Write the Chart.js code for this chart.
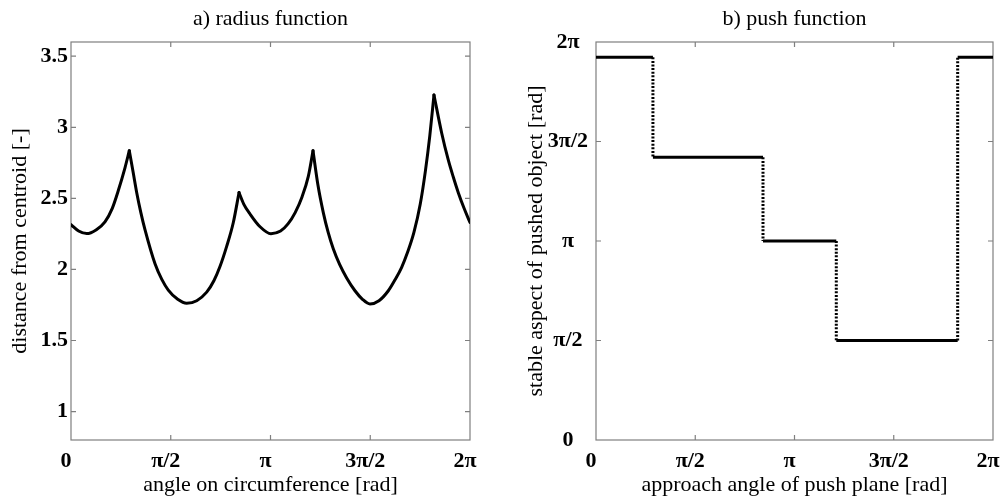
<!DOCTYPE html>
<html><head><meta charset="utf-8">
<script src="https://cdn.jsdelivr.net/npm/chart.js@4.4.1/dist/chart.umd.min.js"></script>
<style>
html,body{margin:0;padding:0;background:#fff;overflow:hidden;width:1005px;height:501px}
canvas{position:absolute;top:0}
#c1{left:0}
#c2{left:505px}
</style></head><body>
<canvas id="c1" width="500" height="501"></canvas>
<canvas id="c2" width="500" height="501"></canvas>
<script>
const PI = Math.PI;

// a) radius function: angle on circumference [rad] vs distance from centroid
const radiusAngle = [0, 0.12, 0.247, 0.40, 0.535, 0.65, 0.745, 0.85, 0.918,
  0.98, 1.035, 1.10, 1.165, 1.323, 1.43, 1.532, 1.68, 1.822, 1.98, 2.137, 2.25, 2.346, 2.45, 2.556, 2.646,
  2.72, 2.819, 2.977, 3.149, 3.30, 3.417, 3.53, 3.638, 3.737, 3.811,
  3.89, 3.973, 4.05, 4.13, 4.23, 4.341, 4.472, 4.59, 4.708, 4.85, 4.997, 5.10, 5.207, 5.30, 5.40, 5.50, 5.58, 5.65, 5.716,
  5.837, 5.941, 6.02, 6.099, 6.19, 6.283];
const radiusValue = [2.315, 2.27, 2.252, 2.28, 2.335, 2.43, 2.555, 2.715, 2.835,
  2.68, 2.54, 2.40, 2.28, 2.04, 1.93, 1.855, 1.79, 1.762, 1.78, 1.84, 1.92, 2.02, 2.16, 2.33, 2.541,
  2.46, 2.39, 2.30, 2.251, 2.27, 2.32, 2.40, 2.51, 2.655, 2.835,
  2.59, 2.40, 2.26, 2.145, 2.035, 1.94, 1.85, 1.79, 1.757, 1.78, 1.85, 1.925, 2.015, 2.12, 2.26, 2.46, 2.69, 2.94, 3.227,
  2.96, 2.77, 2.65, 2.54, 2.43, 2.33];

// b) push function: approach angle -> stable aspect (piecewise constant)
const pushEdges = [0.901, 2.643, 3.803, 5.724];
const pushLevels = [6.042, 4.463, 3.142, 1.571, 6.042];

// tick values and labels
const angleTickValues = [0, PI/2, PI, 3*PI/2, 2*PI];
const angleTickLabels = ['0', 'π/2', 'π', '3π/2', '2π'];
const radiusTickValues = [1, 1.5, 2, 2.5, 3, 3.5];
const radiusTickLabels = ['1', '1.5', '2', '2.5', '3', '3.5'];

const SERIF = "'Liberation Serif', 'Times New Roman', serif";
const tickFont = {family: SERIF, size: 22, weight: 'bold'};
const titleFont = {family: SERIF, size: 22, weight: 'normal'};

const framePlugin = {
  id: 'frame',
  beforeDatasetsDraw(chart) {
    const {ctx, chartArea: a, scales} = chart;
    ctx.save();
    ctx.strokeStyle = '#7f7f7f';
    ctx.lineWidth = 1.2;
    ctx.strokeRect(a.left, a.top, a.right - a.left, a.bottom - a.top);
    const L = 5;
    ctx.beginPath();
    scales.x.ticks.forEach(t => {
      const px = scales.x.getPixelForValue(t.value);
      if (px <= a.left + 1 || px >= a.right - 1) return;
      ctx.moveTo(px, a.bottom); ctx.lineTo(px, a.bottom - L);
      ctx.moveTo(px, a.top); ctx.lineTo(px, a.top + L);
    });
    scales.y.ticks.forEach(t => {
      const py = scales.y.getPixelForValue(t.value);
      if (py <= a.top + 1 || py >= a.bottom - 1) return;
      ctx.moveTo(a.left, py); ctx.lineTo(a.left + L, py);
      ctx.moveTo(a.right, py); ctx.lineTo(a.right - L, py);
    });
    ctx.stroke();
    ctx.restore();
  }
};

function setTicks(values) {
  return scale => { scale.ticks = values.map(v => ({value: v})); };
}

function makeOptions(cfg) {
  return {
    responsive: false,
    animation: false,
    devicePixelRatio: 1,
    layout: {padding: {left: 0, right: cfg.padRight, top: 0, bottom: 0}},
    plugins: {legend: {display: false}, tooltip: {enabled: false}, title: {display: false}},
    scales: {
      x: {
        type: 'linear', position: 'bottom', min: 0, max: 2*PI,
        afterBuildTicks: setTicks(angleTickValues),
        afterFit: s => { s.height = 61; s.paddingLeft = 0; s.paddingRight = 0; },
        grid: {display: false, drawTicks: false},
        border: {display: false},
        ticks: {
          autoSkip: false, maxRotation: 0, padding: 8, labelOffset: -5,
          font: tickFont, color: '#000',
          callback: (v, i) => angleTickLabels[i]
        },
        title: {display: true, text: cfg.xTitle, font: titleFont, color: '#000', padding: {top: 0, bottom: 3}}
      },
      top: {
        type: 'linear', position: 'top', min: 0, max: 1,
        afterFit: s => { s.height = 42; s.paddingLeft = 0; s.paddingRight = 0; },
        grid: {display: false, drawTicks: false},
        border: {display: false},
        ticks: {display: false},
        title: {display: true, text: cfg.title, font: titleFont, color: '#000', padding: {top: 6, bottom: 0}}
      },
      y: {
        type: 'linear', position: 'left', min: cfg.yMin, max: cfg.yMax,
        afterBuildTicks: setTicks(cfg.yTickValues),
        afterFit: s => { s.width = cfg.yWidth; },
        grid: {display: false, drawTicks: false},
        border: {display: false},
        ticks: {
          autoSkip: false, padding: cfg.yTickPad, crossAlign: cfg.crossAlign,
          font: tickFont, color: '#000',
          callback: (v, i) => cfg.yTickLabels[i]
        },
        title: {display: true, text: cfg.yTitle, font: titleFont, color: '#000', padding: {top: cfg.yTitlePad, bottom: 0}}
      }
    }
  };
}

// split the radius curve into smooth arcs between cusps (local maxima)
function splitArcs(xs, ys) {
  const arcs = [];
  let cur = [];
  for (let i = 0; i < xs.length; i++) {
    cur.push({x: xs[i], y: ys[i]});
    const peak = i > 0 && i < xs.length - 1 && ys[i] > ys[i-1] && ys[i] > ys[i+1];
    if (peak) { arcs.push(cur); cur = [{x: xs[i], y: ys[i]}]; }
  }
  arcs.push(cur);
  return arcs;
}

const arcDatasets = splitArcs(radiusAngle, radiusValue).map(pts => ({
  data: pts,
  borderColor: '#000',
  borderWidth: 3,
  pointRadius: 0,
  fill: false,
  cubicInterpolationMode: 'monotone',
  borderCapStyle: 'round',
  borderJoinStyle: 'round'
}));

new Chart(document.getElementById('c1'), {
  type: 'line',
  data: {datasets: arcDatasets},
  options: makeOptions({
    padRight: 30,
    title: 'a) radius function',
    xTitle: 'angle on circumference [rad]',
    yTitle: 'distance from centroid [-]',
    yMin: 0.8, yMax: 3.6,
    yTickValues: radiusTickValues, yTickLabels: radiusTickLabels,
    yWidth: 71, yTickPad: 3, crossAlign: 'near', yTitlePad: 7
  }),
  plugins: [framePlugin]
});

// build solid plateaus and dotted transitions from edges and levels
const bounds = [0, ...pushEdges, 2*PI];
const plateauPoints = [];
pushLevels.forEach((lvl, i) => {
  if (i > 0) plateauPoints.push({x: bounds[i], y: null});
  plateauPoints.push({x: bounds[i], y: lvl}, {x: bounds[i + 1], y: lvl});
});
const jumpPoints = [];
pushEdges.forEach((e, i) => {
  if (i > 0) jumpPoints.push({x: e, y: null});
  jumpPoints.push({x: e, y: pushLevels[i]}, {x: e, y: pushLevels[i + 1]});
});

new Chart(document.getElementById('c2'), {
  type: 'line',
  data: {datasets: [
    {
      data: jumpPoints,
      borderColor: '#000',
      borderWidth: 3,
      borderDash: [2, 1.6],
      pointRadius: 0,
      fill: false,
      spanGaps: false,
      borderCapStyle: 'butt'
    },
    {
      data: plateauPoints,
      borderColor: '#000',
      borderWidth: 3,
      pointRadius: 0,
      fill: false,
      spanGaps: false,
      borderCapStyle: 'butt'
    }
  ]},
  options: makeOptions({
    padRight: 12,
    title: 'b) push function',
    xTitle: 'approach angle of push plane [rad]',
    yTitle: 'stable aspect of pushed object [rad]',
    yMin: 0, yMax: 2*PI,
    yTickValues: angleTickValues, yTickLabels: angleTickLabels,
    yWidth: 91, yTickPad: 8, crossAlign: 'center', yTitlePad: 18
  }),
  plugins: [framePlugin]
});
</script>
</body></html>
